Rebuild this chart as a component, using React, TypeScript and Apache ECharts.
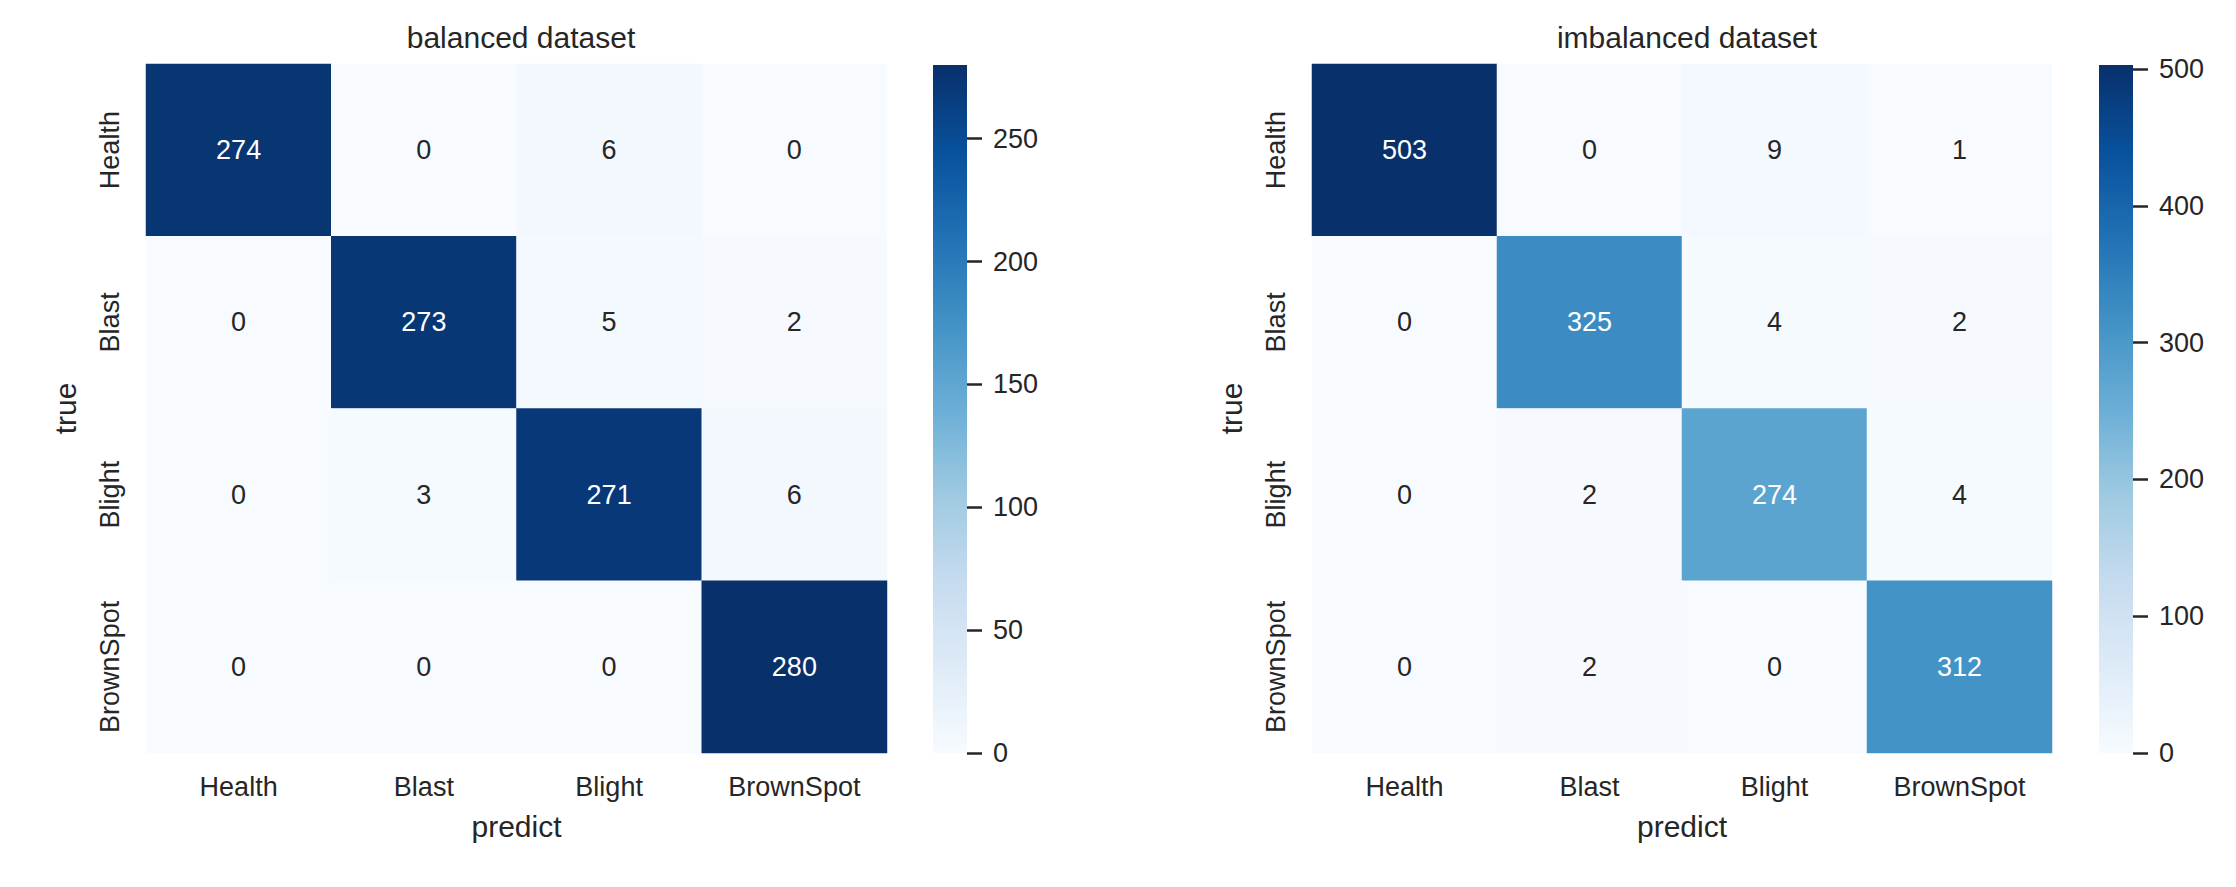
import React, { useEffect, useRef } from "react";
import * as echarts from "echarts";

const categories = ["Health", "Blast", "Blight", "BrownSpot"];
const balanced = [
  [274, 0, 6, 0],
  [0, 273, 5, 2],
  [0, 3, 271, 6],
  [0, 0, 0, 280],
];
const imbalanced = [
  [503, 0, 9, 1],
  [0, 325, 4, 2],
  [0, 2, 274, 4],
  [0, 2, 0, 312],
];
const titles = ["balanced dataset", "imbalanced dataset"];
const barMax = [280, 503];
const barInterval = [50, 100];
const xName = "predict";
const yName = "true";

const BLUES = ["#f7fbff", "#deebf7", "#c6dbef", "#9ecae1", "#6baed6", "#4292c6", "#2171b5", "#08519c", "#08306b"];
const TXT = "#262626";
const FONT = "Liberation Sans, Arial, sans-serif";

function toData(m: number[][], max: number) {
  const out: any[] = [];
  m.forEach((row, yi) =>
    row.forEach((v, xi) => {
      out.push({
        value: [xi, yi, v],
        label: { color: v / max > 0.35 ? "#ffffff" : TXT },
      });
    })
  );
  return out;
}

export default function App() {
  const ref = useRef<HTMLDivElement>(null);
  useEffect(() => {
    document.body.style.margin = "0";
    const chart = echarts.init(ref.current!, null, { renderer: "svg" });
    const mats = [balanced, imbalanced];
    const heat = [
      { left: 146, width: 741, cbLeft: 933, center: 516 },
      { left: 1312, width: 740, cbLeft: 2099, center: 1682 },
    ];
    const grad = new echarts.graphic.LinearGradient(
      0,
      1,
      0,
      0,
      BLUES.map((c, k) => ({ offset: k / (BLUES.length - 1), color: c }))
    );
    const grids: any[] = [];
    const xAxes: any[] = [];
    const yAxes: any[] = [];
    const series: any[] = [];
    const visualMaps: any[] = [];
    const titleArr: any[] = [];
    heat.forEach((h, i) => {
      grids.push({ left: h.left, top: 64, width: h.width, height: 689 });
      grids.push({ left: h.cbLeft, top: 65, width: 34, height: 688 });
      xAxes.push({
        type: "category",
        gridIndex: 2 * i,
        data: categories,
        axisLine: { show: false },
        axisTick: { show: false },
        splitLine: { show: false },
        axisLabel: { fontSize: 27, color: TXT, fontFamily: FONT, margin: 20 },
        name: xName,
        nameLocation: "middle",
        nameGap: 58,
        nameTextStyle: { fontSize: 30, color: TXT, fontFamily: FONT, verticalAlign: "top" },
      });
      yAxes.push({
        type: "category",
        gridIndex: 2 * i,
        data: categories,
        inverse: true,
        axisLine: { show: false },
        axisTick: { show: false },
        splitLine: { show: false },
        axisLabel: { fontSize: 27, color: TXT, fontFamily: FONT, rotate: 90, margin: 23 },
        name: yName,
        nameLocation: "middle",
        nameGap: 66,
        nameTextStyle: { fontSize: 30, color: TXT, fontFamily: FONT },
      });
      xAxes.push({
        type: "category",
        gridIndex: 2 * i + 1,
        data: ["cb"],
        show: false,
        boundaryGap: true,
      });
      yAxes.push({
        type: "value",
        gridIndex: 2 * i + 1,
        position: "right",
        min: 0,
        max: barMax[i],
        interval: barInterval[i],
        axisLine: { show: true, lineStyle: { color: "rgba(0,0,0,0)", width: 0 } },
        splitLine: { show: false },
        axisTick: { show: true, inside: false, length: 15, lineStyle: { color: TXT, width: 2.5 } },
        axisLabel: { fontSize: 27, color: TXT, fontFamily: FONT, margin: 26, showMaxLabel: false },
      });
      series.push({
        type: "heatmap",
        xAxisIndex: 2 * i,
        yAxisIndex: 2 * i,
        data: toData(mats[i], barMax[i]),
        label: { show: true, fontSize: 27, fontFamily: FONT },
        itemStyle: { borderWidth: 0 },
        emphasis: { disabled: true },
      });
      visualMaps.push({
        type: "continuous",
        seriesIndex: 2 * i,
        dimension: 2,
        min: 0,
        max: barMax[i],
        show: false,
        inRange: { color: BLUES },
      });
      series.push({
        type: "bar",
        xAxisIndex: 2 * i + 1,
        yAxisIndex: 2 * i + 1,
        data: [barMax[i]],
        barWidth: "100%",
        itemStyle: { color: grad },
        silent: true,
        emphasis: { disabled: true },
      });
      titleArr.push({
        text: titles[i],
        left: h.center,
        top: 17,
        textAlign: "center",
        textStyle: { fontSize: 30, fontWeight: "normal", color: TXT, fontFamily: FONT },
      });
    });
    chart.setOption({
      animation: false,
      backgroundColor: "#ffffff",
      title: titleArr,
      grid: grids,
      xAxis: xAxes,
      yAxis: yAxes,
      visualMap: visualMaps,
      series,
    });
    return () => chart.dispose();
  }, []);
  return <div ref={ref} style={{ width: 2236, height: 887 }} />;
}
